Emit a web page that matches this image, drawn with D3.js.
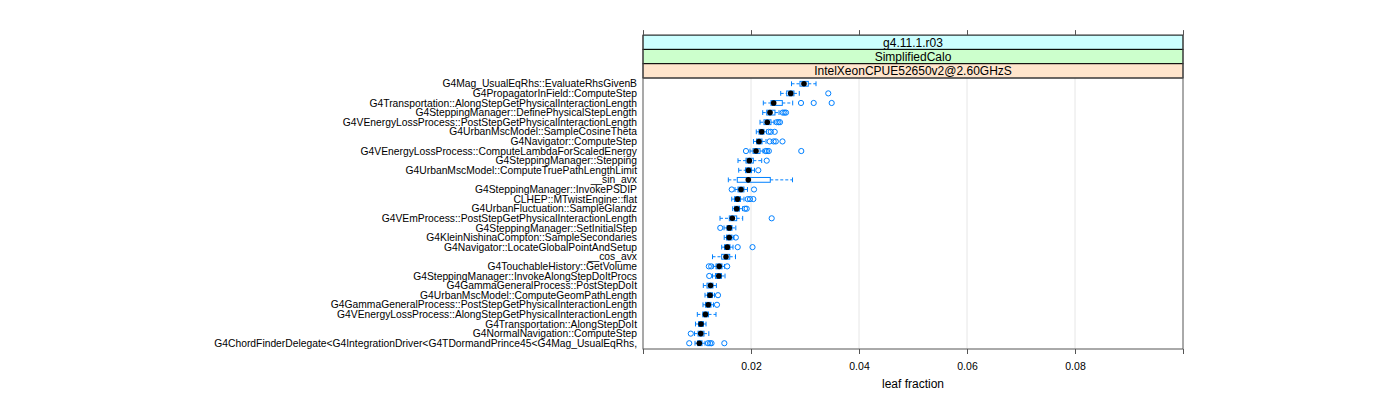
<!DOCTYPE html>
<html><head><meta charset="utf-8">
<script src="https://cdn.jsdelivr.net/npm/d3@7"></script>
<style>
html,body{margin:0;padding:0;background:#fff;}
text{font-family:"Liberation Sans",Arial,Helvetica,sans-serif;}
</style></head>
<body><svg id="c" width="1400" height="400"></svg>
<script>
const categories = [
"G4Mag_UsualEqRhs::EvaluateRhsGivenB",
"G4PropagatorInField::ComputeStep",
"G4Transportation::AlongStepGetPhysicalInteractionLength",
"G4SteppingManager::DefinePhysicalStepLength",
"G4VEnergyLossProcess::PostStepGetPhysicalInteractionLength",
"G4UrbanMscModel::SampleCosineTheta",
"G4Navigator::ComputeStep",
"G4VEnergyLossProcess::ComputeLambdaForScaledEnergy",
"G4SteppingManager::Stepping",
"G4UrbanMscModel::ComputeTruePathLengthLimit",
"__sin_avx",
"G4SteppingManager::InvokePSDIP",
"CLHEP::MTwistEngine::flat",
"G4UrbanFluctuation::SampleGlandz",
"G4VEmProcess::PostStepGetPhysicalInteractionLength",
"G4SteppingManager::SetInitialStep",
"G4KleinNishinaCompton::SampleSecondaries",
"G4Navigator::LocateGlobalPointAndSetup",
"__cos_avx",
"G4TouchableHistory::GetVolume",
"G4SteppingManager::InvokeAlongStepDoItProcs",
"G4GammaGeneralProcess::PostStepDoIt",
"G4UrbanMscModel::ComputeGeomPathLength",
"G4GammaGeneralProcess::PostStepGetPhysicalInteractionLength",
"G4VEnergyLossProcess::AlongStepGetPhysicalInteractionLength",
"G4Transportation::AlongStepDoIt",
"G4NormalNavigation::ComputeStep",
"G4ChordFinderDelegate<G4IntegrationDriver<G4TDormandPrince45<G4Mag_UsualEqRhs,"
];
// five-number summaries: lower whisker, q1, median, q3, upper whisker
const whiskerLow = [0.0275,0.0255,0.02228,0.02217,0.02167,0.02098,0.02046,0.01981,0.01759,0.01772,0.0158,0.01704,0.01643,0.01661,0.01426,0.015,0.01504,0.01457,0.01287,0.01296,0.01287,0.01117,0.01148,0.01111,0.01006,0.00972,0.00954,0.00963];
const q1 = [0.02907,0.02661,0.0237,0.02291,0.0224,0.02148,0.02102,0.02037,0.01907,0.01898,0.01746,0.01759,0.01694,0.01694,0.01598,0.01556,0.01546,0.01509,0.01457,0.01352,0.01343,0.01185,0.01194,0.01157,0.01106,0.01028,0.01019,0.01009];
const medians = [0.02981,0.02735,0.0242,0.02352,0.02302,0.02198,0.02148,0.02093,0.01969,0.01954,0.0195,0.01815,0.0175,0.01735,0.01654,0.01598,0.01596,0.01561,0.01537,0.01411,0.01404,0.0125,0.01241,0.01209,0.01157,0.01074,0.0107,0.01043];
const q3 = [0.03061,0.02796,0.0258,0.02444,0.0237,0.0224,0.02204,0.02167,0.02043,0.02009,0.02357,0.0187,0.01806,0.01787,0.01735,0.01648,0.01648,0.01611,0.01606,0.01463,0.01454,0.01296,0.01287,0.01259,0.01213,0.0112,0.0113,0.01093];
const whiskerHigh = [0.03204,0.02894,0.02772,0.02519,0.02426,0.02287,0.02278,0.02222,0.02198,0.02065,0.02769,0.01935,0.0187,0.01843,0.01846,0.01719,0.01685,0.01667,0.01713,0.01509,0.01519,0.01359,0.01324,0.01306,0.01352,0.01167,0.01219,0.01148];
const outliers = [
[],
[0.03431],
[0.02926,0.03161,0.03494],
[0.02587,0.0262,0.02648],
[0.02476,0.02509,0.02537],
[0.02328,0.02367,0.02439],
[0.02346,0.0242,0.02459,0.02583],
[0.01907,0.02269,0.02296,0.0233,0.02931],
[0.02291],
[0.02135],
[],
[0.01643,0.02056],
[0.01939,0.01981,0.02043],
[0.01889,0.0192],
[0.02383],
[0.01431],
[0.01719],
[0.01754,0.02028],
[],
[0.01219,0.01263,0.01559],
[0.01226],
[],
[0.01389],
[0.0137],
[],
[],
[0.00885],
[0.00856,0.01204,0.01241,0.01269,0.01506]
];
const xTicks = [0, 0.02, 0.04, 0.06, 0.08, 0.1];
const xTickLabels = ["", "0.02", "0.04", "0.06", "0.08", ""];
const stripLabels = ["g4.11.1.r03", "SimplifiedCalo", "IntelXeonCPUE52650v2@2.60GHzS"];
const xTitle = "leaf fraction";

const svg = d3.select("#c");
const L = 643, R = 1183, T = 78, B = 349;
const stripH = 14.3;
const x = d3.scaleLinear().domain([0, 0.1]).range([L, R]);
const y = d3.scaleLinear().domain([0.4, categories.length + 0.6]).range([T, B]);
const yPos = i => y(i + 1);
const blue = "#0080ff";

// grid
svg.append("g").selectAll("line").data(xTicks.slice(1, -1)).join("line")
  .attr("x1", d => x(d)).attr("x2", d => x(d)).attr("y1", T).attr("y2", B)
  .attr("stroke", "#e6e6e6").attr("stroke-width", 1);

// strips
const stripColors = ["#ccffff", "#ccffcc", "#ffe5cc"];
stripLabels.forEach((s, i) => {
  const top = T - stripH * (3 - i);
  svg.append("rect").attr("x", L).attr("y", top).attr("width", R - L).attr("height", stripH)
    .attr("fill", stripColors[i]).attr("stroke", "#000").attr("stroke-width", 1);
  svg.append("text").attr("x", (L + R) / 2).attr("y", top + stripH / 2 + 4.3)
    .attr("text-anchor", "middle").attr("font-size", 12).text(s);
});

// panel border
svg.append("rect").attr("x", L).attr("y", T).attr("width", R - L).attr("height", B - T)
  .attr("fill", "none").attr("stroke", "#555").attr("stroke-width", 1);
svg.append("line").attr("x1", L).attr("x2", L).attr("y1", T - 3 * stripH).attr("y2", T).attr("stroke", "#555");
svg.append("line").attr("x1", R).attr("x2", R).attr("y1", T - 3 * stripH).attr("y2", T).attr("stroke", "#555");

// axes
const axB = d3.axisBottom(x).tickValues(xTicks).tickFormat((d, i) => xTickLabels[i]).tickSizeOuter(0).tickSize(5).tickPadding(9);
const gB = svg.append("g").attr("transform", `translate(0,${B})`).call(axB);
gB.select(".domain").remove();
gB.selectAll("line").attr("stroke", "#555");
gB.selectAll("text").attr("font-size", 10.5).attr("font-family", "Liberation Sans, Arial, sans-serif").attr("fill", "#000");
const axT = d3.axisTop(x).tickValues(xTicks).tickFormat("").tickSizeOuter(0).tickSize(5);
const gT = svg.append("g").attr("transform", `translate(0,${T - 3 * stripH})`).call(axT);
gT.select(".domain").remove();
gT.selectAll("line").attr("stroke", "#555");

svg.append("text").attr("x", (L + R) / 2).attr("y", 388).attr("text-anchor", "middle")
  .attr("font-size", 12).text(xTitle);

// y labels
svg.append("g").selectAll("text").data(categories).join("text")
  .attr("x", L - 6).attr("y", (d, i) => yPos(i) + 3.6).attr("text-anchor", "end")
  .attr("font-size", 10.3).text(d => d);

// boxes
const bh = 4.8;
const g = svg.append("g");
categories.forEach((c, i) => {
  const cy = yPos(i);
  g.append("line").attr("x1", x(whiskerLow[i])).attr("x2", x(q1[i])).attr("y1", cy).attr("y2", cy)
    .attr("stroke", blue).attr("stroke-dasharray", "3,2");
  g.append("line").attr("x1", x(q3[i])).attr("x2", x(whiskerHigh[i])).attr("y1", cy).attr("y2", cy)
    .attr("stroke", blue).attr("stroke-dasharray", "3,2");
  [whiskerLow[i], whiskerHigh[i]].forEach(v => {
    g.append("line").attr("x1", x(v)).attr("x2", x(v)).attr("y1", cy - bh / 2).attr("y2", cy + bh / 2)
      .attr("stroke", blue);
  });
  g.append("rect").attr("x", x(q1[i])).attr("y", cy - bh / 2).attr("width", x(q3[i]) - x(q1[i])).attr("height", bh)
    .attr("fill", "none").attr("stroke", blue);
  outliers[i].forEach(v => {
    g.append("circle").attr("cx", x(v)).attr("cy", cy).attr("r", 2.6).attr("fill", "none").attr("stroke", blue);
  });
  g.append("circle").attr("cx", x(medians[i])).attr("cy", cy).attr("r", 2.8).attr("fill", "#000");
});
</script></body></html>
